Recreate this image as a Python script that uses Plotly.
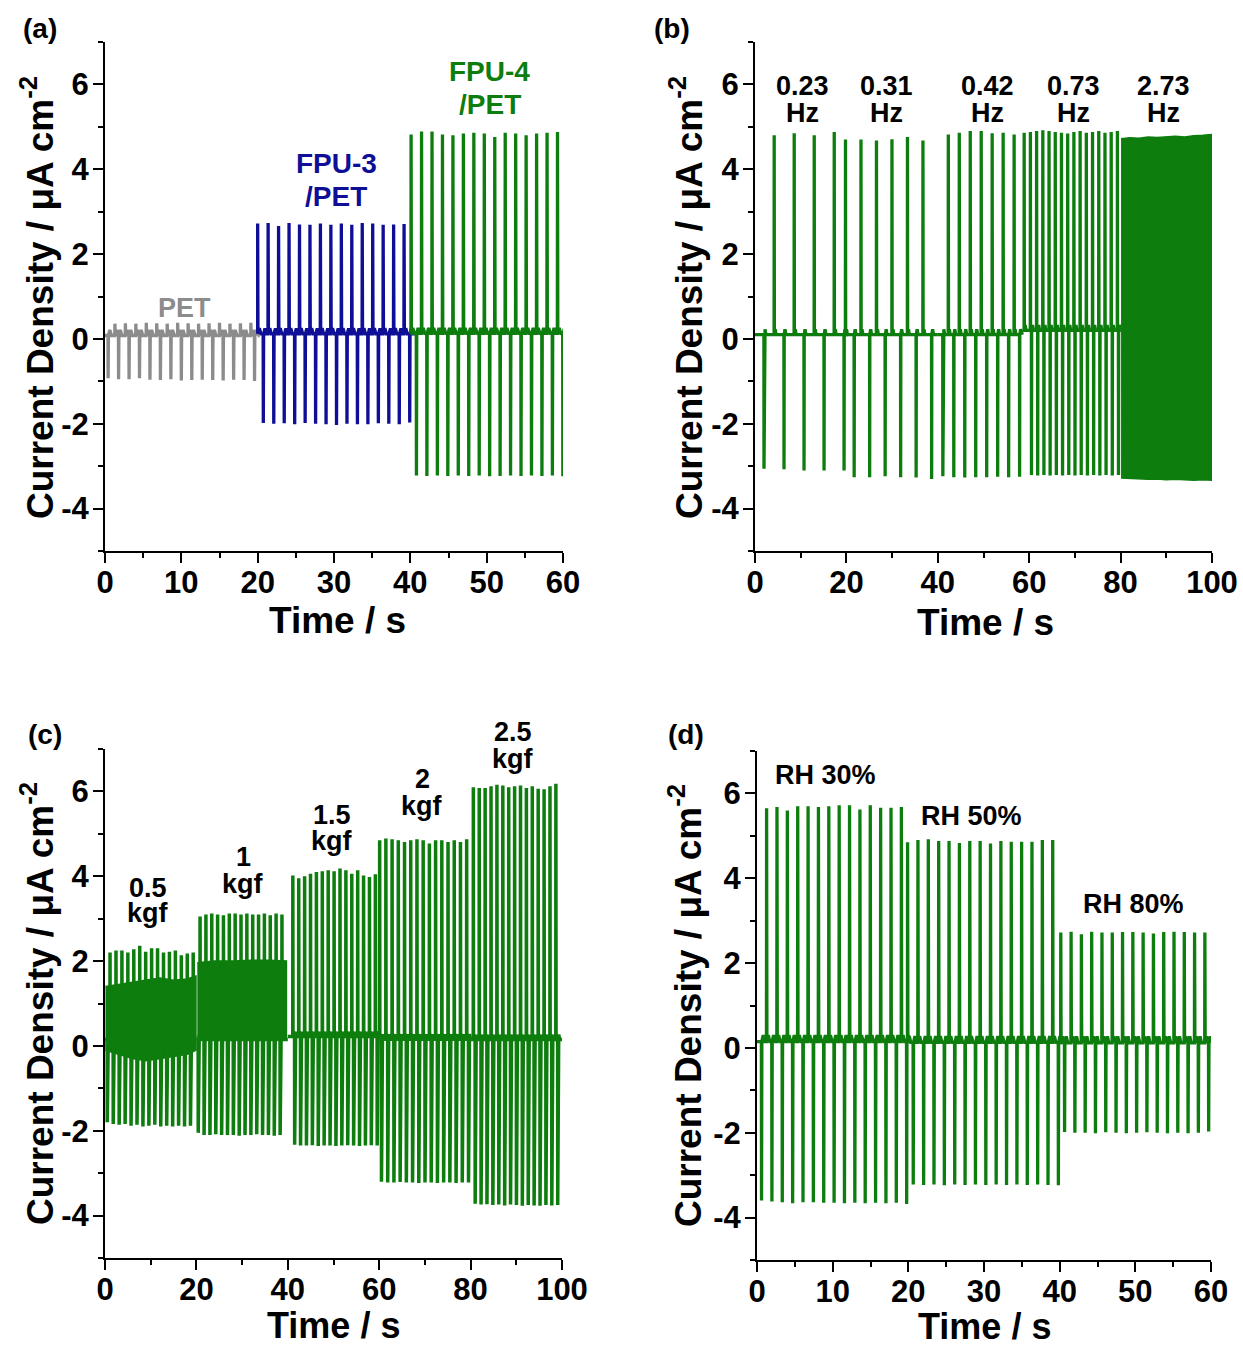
import plotly.graph_objects as go

W, H = 1243, 1348

# ---------------- DATA ----------------
# Panel (a): contact-separation spikes for three films (20 s each)
a_pet_pos = [0.36, 0.37, 0.36, 0.38, 0.37, 0.36, 0.38, 0.37, 0.36, 0.37, 0.38, 0.36, 0.37, 0.38]
a_pet_neg = [-0.93, -0.95, -0.95, -0.93, -0.96, -0.97, -0.95, -0.98, -0.97, -0.96, -0.97, -0.98, -0.96, -0.97, -0.99]
a_fpu3_pos = [2.72, 2.73, 2.66, 2.73, 2.70, 2.69, 2.72, 2.69, 2.72, 2.69, 2.73, 2.72, 2.69, 2.70, 2.71]
a_fpu3_neg = [-1.98, -2.00, -1.99, -2.01, -1.98, -2.00, -2.01, -2.03, -2.00, -2.01, -2.01, -1.99, -2.00, -2.01, -1.97]
a_fpu4_pos = [4.82, 4.89, 4.89, 4.82, 4.80, 4.84, 4.86, 4.84, 4.76, 4.86, 4.84, 4.80, 4.84, 4.86, 4.88]
a_fpu4_neg = [-3.22, -3.23, -3.22, -3.23, -3.22, -3.23, -3.22, -3.24, -3.23, -3.22, -3.23, -3.22, -3.23, -3.22, -3.24]

# Panel (b): frequency series
b_f023_pos = [4.80, 4.85, 4.80, 4.88]
b_f023_neg = [-3.06, -3.07, -3.10, -3.10, -3.10]
b_f031_pos = [4.70, 4.70, 4.68, 4.71, 4.76, 4.68]
b_f031_neg = [-3.26, -3.26, -3.24, -3.26, -3.27, -3.30]
b_f042_pos = [4.82, 4.86, 4.90, 4.90, 4.85, 4.86, 4.82]
b_f042_neg = [-3.24, -3.26, -3.27, -3.26, -3.26, -3.25, -3.26, -3.25]
b_f073_pos = [4.86, 4.88, 4.90, 4.92, 4.90, 4.88, 4.86, 4.84, 4.88, 4.90, 4.86, 4.88, 4.90, 4.86, 4.88, 4.90]
b_f073_neg = [-3.21, -3.22, -3.21, -3.22, -3.21, -3.22, -3.21, -3.22, -3.21, -3.22, -3.21, -3.22, -3.21, -3.22, -3.21]
b_f273_t = [80.1, 82, 84, 86, 88, 90, 92, 94, 96, 98, 99.9]
b_f273_top = [4.72, 4.74, 4.73, 4.76, 4.75, 4.77, 4.78, 4.76, 4.79, 4.80, 4.82]
b_f273_bot = [-3.28, -3.30, -3.30, -3.31, -3.30, -3.32, -3.31, -3.32, -3.33, -3.32, -3.33]

# Panel (c): force series
c_k05_pos = [2.20, 2.25, 2.25, 2.20, 2.28, 2.36, 2.22, 2.30, 2.30, 2.20, 2.22, 2.25, 2.14, 2.18, 2.20]
c_k05_neg = [-1.80, -1.84, -1.86, -1.84, -1.88, -1.86, -1.90, -1.88, -1.86, -1.90, -1.88, -1.90, -1.88, -1.90, -1.88]
c_k05_band_t = [0.1, 3, 6, 9, 12, 15, 18, 19.9]
c_k05_band_top = [1.40, 1.45, 1.50, 1.55, 1.60, 1.55, 1.58, 1.65]
c_k05_band_bot = [-0.10, -0.20, -0.30, -0.35, -0.30, -0.25, -0.20, -0.10]
c_k10_pos = [3.05, 3.10, 3.12, 3.10, 3.08, 3.12, 3.12, 3.10, 3.12, 3.10, 3.10, 3.12, 3.08, 3.12, 3.10]
c_k10_neg = [-2.05, -2.10, -2.10, -2.08, -2.10, -2.10, -2.10, -2.12, -2.10, -2.10, -2.08, -2.10, -2.10, -2.12, -2.10]
c_k10_band_t = [20.2, 24, 28, 32, 36, 39.7]
c_k10_band_top = [1.96, 2.00, 2.00, 2.02, 2.02, 2.00]
c_k10_band_bot = [0.15, 0.15, 0.15, 0.15, 0.15, 0.15]
c_k15_pos = [4.02, 3.95, 4.00, 4.06, 4.10, 4.12, 4.14, 4.12, 4.18, 4.14, 4.06, 4.14, 4.02, 3.98, 4.05]
c_k15_neg = [-2.33, -2.35, -2.35, -2.34, -2.36, -2.35, -2.35, -2.36, -2.35, -2.34, -2.35, -2.36, -2.35, -2.34, -2.35]
c_k20_pos = [4.85, 4.89, 4.87, 4.85, 4.81, 4.85, 4.87, 4.85, 4.77, 4.85, 4.85, 4.81, 4.85, 4.81, 4.87]
c_k20_neg = [-3.20, -3.22, -3.22, -3.21, -3.22, -3.22, -3.23, -3.22, -3.22, -3.23, -3.22, -3.22, -3.23, -3.22, -3.22]
c_k25_pos = [6.10, 6.08, 6.08, 6.12, 6.16, 6.14, 6.10, 6.12, 6.14, 6.08, 6.12, 6.06, 6.05, 6.12, 6.18]
c_k25_neg = [-3.72, -3.74, -3.73, -3.75, -3.74, -3.76, -3.74, -3.75, -3.77, -3.75, -3.76, -3.77, -3.75, -3.76, -3.75]

# Panel (d): humidity series
d_rh30_pos = [5.65, 5.68, 5.60, 5.70, 5.70, 5.68, 5.70, 5.72, 5.72, 5.62, 5.72, 5.66, 5.66, 5.68]
d_rh30_neg = [-3.60, -3.62, -3.64, -3.66, -3.64, -3.64, -3.65, -3.65, -3.66, -3.65, -3.66, -3.65, -3.66, -3.65, -3.68]
d_rh50_pos = [4.85, 4.90, 4.92, 4.88, 4.88, 4.83, 4.88, 4.88, 4.82, 4.88, 4.86, 4.86, 4.86, 4.90, 4.90]
d_rh50_neg = [-3.22, -3.23, -3.22, -3.24, -3.22, -3.23, -3.22, -3.23, -3.22, -3.23, -3.22, -3.23, -3.22, -3.23, -3.24]
d_rh80_pos = [2.72, 2.74, 2.68, 2.74, 2.72, 2.72, 2.73, 2.73, 2.72, 2.70, 2.73, 2.74, 2.73, 2.72, 2.72]
d_rh80_neg = [-1.98, -2.00, -2.00, -2.01, -1.99, -2.00, -2.01, -2.00, -1.99, -2.00, -2.01, -2.00, -2.01, -2.00, -1.97]

# segment timing: (start, end, first positive, first negative, period, baseline)
a_timing = [(0, 20, 1.30, 0.41, 1.37, 0.08), (20, 40, 20.0, 20.74, 1.37, 0.12), (40, 60, 40.1, 40.8, 1.37, 0.13)]
b_timing = [(0, 19.6, 4.2, 1.97, 4.38, 0.10), (19.6, 40, 19.8, 21.7, 3.39, 0.10),
            (40, 58.5, 42.3, 41.1, 2.40, 0.10), (58.5, 80, 58.9, 60.5, 1.36, 0.20)]
c_timing = [(0, 20, 1.1, 0.5, 1.3, 0.15), (20, 40, 20.8, 20.4, 1.28, 0.15), (40, 60, 41.1, 41.5, 1.29, 0.22),
            (60, 80, 60.1, 60.5, 1.36, 0.16), (80, 100, 80.6, 81.0, 1.29, 0.15)]
d_timing = [(0, 19.95, 1.27, 0.6, 1.37, 0.15), (19.95, 40.1, 19.9, 20.65, 1.37, 0.13), (40.1, 60, 40.15, 40.65, 1.36, 0.12)]

# label texts
b_freq_labels = ["0.23", "0.31", "0.42", "0.73", "2.73"]
c_force_labels = ["0.5", "1", "1.5", "2", "2.5"]
d_rh_labels = ["RH 30%", "RH 50%", "RH 80%"]

# ---------------- STYLE ----------------
GREEN = "#0d7d0d"
BLUE = "#0e0e96"
GRAY = "#8c8c8c"
FONT = "Liberation Sans, Arial, sans-serif"


def waveform(timing, pos, neg, bump):
    t_start, t_end, tp0, tn0, per, base = timing
    ev = [(tp0 + i * per, v) for i, v in enumerate(pos)] + [(tn0 + i * per, v) for i, v in enumerate(neg)]
    ev.sort()
    xs, ys = [t_start], [base]
    for t, v in ev:
        xs += [t - 0.02, t, t + 0.04, t + 0.22, t + 0.42]
        ys += [base, v, base, base + bump, base]
    xs.append(t_end)
    ys.append(base)
    return xs, ys


fig = go.Figure()

# axis placement in pixels: (x0, x1, y_top, y_bottom)
boxes = {
    1: (105, 563, 42, 551),
    2: (755, 1212, 42, 551),
    3: (105, 562, 749, 1258),
    4: (757, 1211, 751, 1260),
}


def add_wave(panel, timing, pos, neg, color, bump=0.13, width=3.3):
    xs, ys = waveform(timing, pos, neg, bump)
    fig.add_trace(go.Scatter(x=xs, y=ys, mode="lines", line=dict(color=color, width=width),
                             xaxis=f"x{panel}", yaxis=f"y{panel}", showlegend=False, hoverinfo="skip"))


def add_band(panel, t, top, bot, color):
    fig.add_trace(go.Scatter(x=list(t) + list(t)[::-1], y=list(top) + list(bot)[::-1], mode="lines",
                             fill="toself", fillcolor=color, line=dict(color=color, width=1.5),
                             xaxis=f"x{panel}", yaxis=f"y{panel}", showlegend=False, hoverinfo="skip"))


# (a)
add_wave(1, a_timing[0], a_pet_pos, a_pet_neg, GRAY)
add_wave(1, a_timing[1], a_fpu3_pos, a_fpu3_neg, BLUE)
add_wave(1, a_timing[2], a_fpu4_pos, a_fpu4_neg, GREEN)
# (b)
for tm, p, n in zip(b_timing, [b_f023_pos, b_f031_pos, b_f042_pos, b_f073_pos],
                    [b_f023_neg, b_f031_neg, b_f042_neg, b_f073_neg]):
    add_wave(2, tm, p, n, GREEN)
add_band(2, b_f273_t, b_f273_top, b_f273_bot, GREEN)
# (c)
add_band(3, c_k05_band_t, c_k05_band_top, c_k05_band_bot, GREEN)
add_band(3, c_k10_band_t, c_k10_band_top, c_k10_band_bot, GREEN)
for tm, p, n in zip(c_timing, [c_k05_pos, c_k10_pos, c_k15_pos, c_k20_pos, c_k25_pos],
                    [c_k05_neg, c_k10_neg, c_k15_neg, c_k20_neg, c_k25_neg]):
    add_wave(3, tm, p, n, GREEN, bump=0.12, width=3.5)
# (d)
for tm, p, n in zip(d_timing, [d_rh30_pos, d_rh50_pos, d_rh80_pos], [d_rh30_neg, d_rh50_neg, d_rh80_neg]):
    add_wave(4, tm, p, n, GREEN, bump=0.15)

xranges = {1: (60, 10, 5), 2: (100, 20, 10), 3: (100, 20, 10), 4: (60, 10, 5)}
ytick_vals = [-4, -2, 0, 2, 4, 6]
ytick_text = ["-4", "-2", "0", "2", "4", "6"]

layout = dict(width=W, height=H, autosize=False, margin=dict(l=0, r=0, t=0, b=0, pad=0),
              paper_bgcolor="white", plot_bgcolor="white", font=dict(family=FONT, color="black"))
tickfont = dict(family=FONT, size=31, color="black", weight="bold")
for p, (x0, x1, yt, yb) in boxes.items():
    xmax, dt, mdt = xranges[p]
    sfx = "" if p == 1 else str(p)
    layout[f"xaxis{sfx}"] = dict(domain=[x0 / W, x1 / W], anchor=f"y{p}", range=[0, xmax], automargin=False,
                                 showline=True, linecolor="black", linewidth=2, ticks="outside",
                                 ticklen=10, tickwidth=2, tickcolor="black", dtick=dt, tick0=0,
                                 minor=dict(ticks="outside", ticklen=5, tickwidth=2, dtick=mdt, tickcolor="black"),
                                 showgrid=False, zeroline=False, tickfont=tickfont, ticklabelstandoff=-7)
    layout[f"yaxis{sfx}"] = dict(domain=[1 - yb / H, 1 - yt / H], anchor=f"x{p}", range=[-5, 7], automargin=False,
                                 showline=True, linecolor="black", linewidth=2, ticks="outside",
                                 ticklen=10, tickwidth=2, tickcolor="black", tickvals=ytick_vals,
                                 ticktext=ytick_text,
                                 minor=dict(ticks="outside", ticklen=5, tickwidth=2,
                                            tickvals=[-5, -3, -1, 1, 3, 5, 7], tickcolor="black"),
                                 showgrid=False, zeroline=False, tickfont=tickfont, ticklabelstandoff=-2)
fig.update_layout(**layout)

ann = []


def pa(text, px, py, size, angle=0):
    ann.append(dict(text=text, x=px / W, y=1 - py / H, xref="paper", yref="paper", showarrow=False,
                    textangle=angle, xanchor="center", yanchor="middle",
                    font=dict(family=FONT, size=size, color="black", weight="bold")))


ytitle = "Current Density / μA cm<sup>-2</sup>"
pa(ytitle, 37, 298, 37, -90)
pa(ytitle, 686, 298, 37, -90)
pa(ytitle, 37, 1004, 37, -90)
pa(ytitle, 686, 1006, 37, -90)
pa("Time / s", 337, 620, 37)
pa("Time / s", 985, 622, 37)
pa("Time / s", 334, 1325, 36)
pa("Time / s", 984, 1326, 36)
pa("(a)", 40, 28, 28)
pa("(b)", 672, 28, 28)
pa("(c)", 45, 734, 28)
pa("(d)", 686, 734, 28)


def da(panel, text, x, y, color="black", size=27, ypix=None):
    sfx = "" if panel == 1 else str(panel)
    if ypix is None:
        yv, yr = y, f"y{sfx}"
    else:
        yv, yr = 1 - ypix / H, "paper"
    ann.append(dict(text=text, x=x, y=yv, xref=f"x{sfx}", yref=yr, showarrow=False,
                    xanchor="center", yanchor="middle",
                    font=dict(family=FONT, size=size, color=color, weight="bold")))


da(1, "PET", 10.4, 0.73, GRAY)
da(1, "FPU-3", 30.3, 4.14, BLUE, 28)
da(1, "/PET", 30.3, 3.36, BLUE, 28)
da(1, "FPU-4", 50.4, 6.31, GREEN, 28)
da(1, "/PET", 50.4, 5.53, GREEN, 28)
for lbl, x in zip(b_freq_labels, [10.3, 28.7, 50.8, 69.8, 89.3]):
    da(2, lbl, x, 5.97)
    da(2, "Hz", x, 5.33)
for lbl, x, y1, y2 in zip(c_force_labels[:4], [9.4, 30.2, 49.7, 69.4],
                          [3.72, 4.46, 5.45, 6.30], [3.14, 3.82, 4.82, 5.66]):
    da(3, lbl, x, y1)
    da(3, "kgf", x, y2)
# top label of (c) sits above the axis range -> placed in paper y
da(3, c_force_labels[4], 89.3, None, ypix=732)
da(3, "kgf", 89.3, None, ypix=759)
for lbl, x, y in zip(d_rh_labels, [9.1, 28.4, 49.7], [6.44, 5.47, 3.4]):
    da(4, lbl, x, y)

fig.update_layout(annotations=ann)
fig.write_html("out.html", config={"responsive": False, "displayModeBar": False},
               post_script="document.body.style.margin='0px';document.body.style.overflow='hidden';")
